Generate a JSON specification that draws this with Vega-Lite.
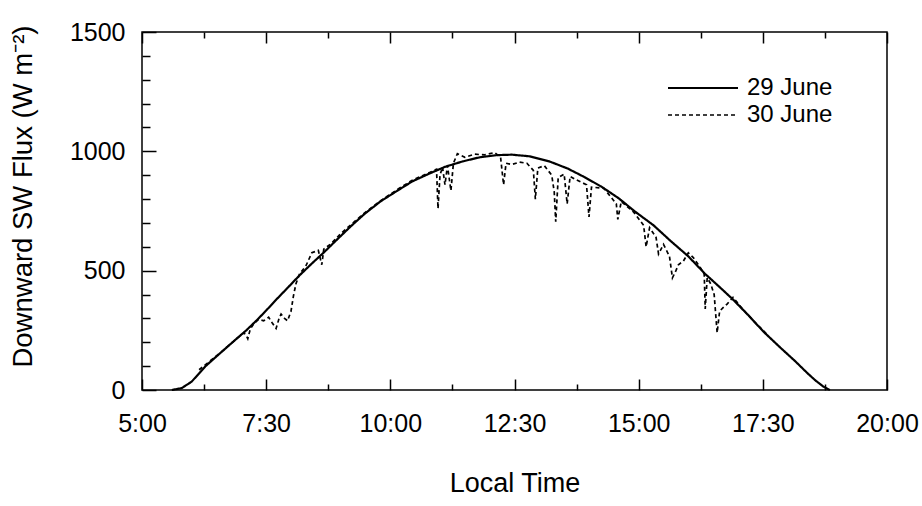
{
  "$schema": "https://vega.github.io/schema/vega-lite/v6.json",
  "width": 745,
  "height": 358,
  "autosize": {"type": "none"},
  "padding": {"left": 142, "top": 32, "right": 35, "bottom": 116},
  "background": "white",
  "config": {"view": {"stroke": "black", "strokeWidth": 1.5}, "font": "Liberation Sans"},
  "datasets": {
    "xt": [{"p": 5}, {"p": 6.25}, {"p": 7.5}, {"p": 8.75}, {"p": 10}, {"p": 11.25}, {"p": 12.5}, {"p": 13.75}, {"p": 15}, {"p": 16.25}, {"p": 17.5}, {"p": 18.75}, {"p": 20}],
    "yt": [{"p": 0}, {"p": 100}, {"p": 200}, {"p": 300}, {"p": 400}, {"p": 500}, {"p": 600}, {"p": 700}, {"p": 800}, {"p": 900}, {"p": 1000}, {"p": 1100}, {"p": 1200}, {"p": 1300}, {"p": 1400}, {"p": 1500}],
    "flux": [
      {"d": "29 June", "t": 5.6, "v": 0},
      {"d": "29 June", "t": 5.8, "v": 8},
      {"d": "29 June", "t": 6.0, "v": 35},
      {"d": "29 June", "t": 6.28, "v": 100},
      {"d": "29 June", "t": 6.55, "v": 150},
      {"d": "29 June", "t": 6.85, "v": 205},
      {"d": "29 June", "t": 7.1, "v": 250},
      {"d": "29 June", "t": 7.31, "v": 292},
      {"d": "29 June", "t": 7.5, "v": 333},
      {"d": "29 June", "t": 7.7, "v": 378},
      {"d": "29 June", "t": 7.95, "v": 432},
      {"d": "29 June", "t": 8.17, "v": 480},
      {"d": "29 June", "t": 8.42, "v": 530},
      {"d": "29 June", "t": 8.67, "v": 578},
      {"d": "29 June", "t": 8.9, "v": 625},
      {"d": "29 June", "t": 9.2, "v": 685},
      {"d": "29 June", "t": 9.47, "v": 736},
      {"d": "29 June", "t": 9.8, "v": 790},
      {"d": "29 June", "t": 10.14, "v": 835},
      {"d": "29 June", "t": 10.45, "v": 875},
      {"d": "29 June", "t": 10.8, "v": 908},
      {"d": "29 June", "t": 11.1, "v": 935},
      {"d": "29 June", "t": 11.46, "v": 958},
      {"d": "29 June", "t": 11.8, "v": 975},
      {"d": "29 June", "t": 12.14, "v": 984},
      {"d": "29 June", "t": 12.45, "v": 986},
      {"d": "29 June", "t": 12.81, "v": 979},
      {"d": "29 June", "t": 13.2, "v": 958},
      {"d": "29 June", "t": 13.57, "v": 928},
      {"d": "29 June", "t": 13.9, "v": 893},
      {"d": "29 June", "t": 14.25, "v": 852},
      {"d": "29 June", "t": 14.6, "v": 803},
      {"d": "29 June", "t": 14.93, "v": 747},
      {"d": "29 June", "t": 15.3, "v": 690},
      {"d": "29 June", "t": 15.64, "v": 625},
      {"d": "29 June", "t": 16.0, "v": 560},
      {"d": "29 June", "t": 16.34, "v": 486},
      {"d": "29 June", "t": 16.6, "v": 437},
      {"d": "29 June", "t": 16.89, "v": 381},
      {"d": "29 June", "t": 17.2, "v": 315},
      {"d": "29 June", "t": 17.52, "v": 243},
      {"d": "29 June", "t": 17.85, "v": 178},
      {"d": "29 June", "t": 18.15, "v": 121},
      {"d": "29 June", "t": 18.4, "v": 70},
      {"d": "29 June", "t": 18.56, "v": 40},
      {"d": "29 June", "t": 18.72, "v": 14},
      {"d": "29 June", "t": 18.85, "v": 0},
      {"d": "30 June", "t": 6.15, "v": 85},
      {"d": "30 June", "t": 6.35, "v": 118},
      {"d": "30 June", "t": 6.6, "v": 160},
      {"d": "30 June", "t": 6.85, "v": 205},
      {"d": "30 June", "t": 7.05, "v": 240},
      {"d": "30 June", "t": 7.1, "v": 228},
      {"d": "30 June", "t": 7.13, "v": 215},
      {"d": "30 June", "t": 7.18, "v": 255},
      {"d": "30 June", "t": 7.25, "v": 278},
      {"d": "30 June", "t": 7.35, "v": 296},
      {"d": "30 June", "t": 7.45, "v": 290},
      {"d": "30 June", "t": 7.55, "v": 305},
      {"d": "30 June", "t": 7.62, "v": 282},
      {"d": "30 June", "t": 7.7, "v": 258},
      {"d": "30 June", "t": 7.76, "v": 300},
      {"d": "30 June", "t": 7.8, "v": 318},
      {"d": "30 June", "t": 7.87, "v": 300},
      {"d": "30 June", "t": 7.93, "v": 290},
      {"d": "30 June", "t": 8.0, "v": 330},
      {"d": "30 June", "t": 8.05, "v": 395},
      {"d": "30 June", "t": 8.1, "v": 445},
      {"d": "30 June", "t": 8.17, "v": 485},
      {"d": "30 June", "t": 8.3, "v": 520},
      {"d": "30 June", "t": 8.42, "v": 575},
      {"d": "30 June", "t": 8.55, "v": 585},
      {"d": "30 June", "t": 8.62, "v": 525},
      {"d": "30 June", "t": 8.66, "v": 590},
      {"d": "30 June", "t": 8.8, "v": 612},
      {"d": "30 June", "t": 9.0, "v": 655},
      {"d": "30 June", "t": 9.47, "v": 740},
      {"d": "30 June", "t": 9.8, "v": 792},
      {"d": "30 June", "t": 10.14, "v": 840},
      {"d": "30 June", "t": 10.45, "v": 880},
      {"d": "30 June", "t": 10.8, "v": 912},
      {"d": "30 June", "t": 10.93, "v": 925},
      {"d": "30 June", "t": 10.96, "v": 760},
      {"d": "30 June", "t": 11.0, "v": 900},
      {"d": "30 June", "t": 11.05, "v": 935},
      {"d": "30 June", "t": 11.1, "v": 860},
      {"d": "30 June", "t": 11.15, "v": 940},
      {"d": "30 June", "t": 11.22, "v": 835},
      {"d": "30 June", "t": 11.27, "v": 950},
      {"d": "30 June", "t": 11.35, "v": 990},
      {"d": "30 June", "t": 11.5, "v": 975},
      {"d": "30 June", "t": 11.7, "v": 988},
      {"d": "30 June", "t": 11.9, "v": 985},
      {"d": "30 June", "t": 12.1, "v": 995},
      {"d": "30 June", "t": 12.22, "v": 975},
      {"d": "30 June", "t": 12.28, "v": 860},
      {"d": "30 June", "t": 12.33, "v": 950},
      {"d": "30 June", "t": 12.45, "v": 945},
      {"d": "30 June", "t": 12.6, "v": 955},
      {"d": "30 June", "t": 12.75, "v": 950},
      {"d": "30 June", "t": 12.88, "v": 920},
      {"d": "30 June", "t": 12.92, "v": 800},
      {"d": "30 June", "t": 12.97, "v": 930},
      {"d": "30 June", "t": 13.1, "v": 940},
      {"d": "30 June", "t": 13.25, "v": 900},
      {"d": "30 June", "t": 13.3, "v": 830},
      {"d": "30 June", "t": 13.33, "v": 705},
      {"d": "30 June", "t": 13.38, "v": 890},
      {"d": "30 June", "t": 13.5, "v": 905},
      {"d": "30 June", "t": 13.56, "v": 780},
      {"d": "30 June", "t": 13.62, "v": 895},
      {"d": "30 June", "t": 13.75, "v": 880},
      {"d": "30 June", "t": 13.95, "v": 860},
      {"d": "30 June", "t": 14.0, "v": 725},
      {"d": "30 June", "t": 14.05, "v": 850},
      {"d": "30 June", "t": 14.3, "v": 845},
      {"d": "30 June", "t": 14.55, "v": 780},
      {"d": "30 June", "t": 14.58, "v": 715},
      {"d": "30 June", "t": 14.65, "v": 790},
      {"d": "30 June", "t": 14.9, "v": 745},
      {"d": "30 June", "t": 15.1, "v": 690},
      {"d": "30 June", "t": 15.15, "v": 600},
      {"d": "30 June", "t": 15.22, "v": 680},
      {"d": "30 June", "t": 15.35, "v": 640},
      {"d": "30 June", "t": 15.4, "v": 570},
      {"d": "30 June", "t": 15.5, "v": 610},
      {"d": "30 June", "t": 15.62, "v": 560},
      {"d": "30 June", "t": 15.68, "v": 470},
      {"d": "30 June", "t": 15.75, "v": 500},
      {"d": "30 June", "t": 15.8, "v": 525},
      {"d": "30 June", "t": 15.9, "v": 540},
      {"d": "30 June", "t": 16.0, "v": 575},
      {"d": "30 June", "t": 16.1, "v": 555},
      {"d": "30 June", "t": 16.25, "v": 510},
      {"d": "30 June", "t": 16.32, "v": 485},
      {"d": "30 June", "t": 16.34, "v": 340},
      {"d": "30 June", "t": 16.38, "v": 470},
      {"d": "30 June", "t": 16.45, "v": 445},
      {"d": "30 June", "t": 16.52, "v": 400},
      {"d": "30 June", "t": 16.58, "v": 240},
      {"d": "30 June", "t": 16.63, "v": 330},
      {"d": "30 June", "t": 16.7, "v": 345},
      {"d": "30 June", "t": 16.78, "v": 360},
      {"d": "30 June", "t": 16.9, "v": 388},
      {"d": "30 June", "t": 17.1, "v": 338},
      {"d": "30 June", "t": 17.3, "v": 292},
      {"d": "30 June", "t": 17.52, "v": 247},
      {"d": "30 June", "t": 17.6, "v": 228}
    ]
  },
  "layer": [
    {
      "data": {"name": "flux"},
      "mark": {"type": "line", "color": "black", "interpolate": "linear"},
      "encoding": {
        "x": {
          "field": "t", "type": "quantitative",
          "scale": {"domain": [5, 20], "nice": false, "zero": false},
          "axis": {
            "orient": "bottom",
            "values": [5, 7.5, 10, 12.5, 15, 17.5, 20],
            "labelExpr": "floor(datum.value) + ':' + (datum.value % 1 === 0 ? '00' : '30')",
            "ticks": false, "domain": false, "grid": false,
            "labelFont": "Liberation Sans", "labelFontSize": 25, "labelColor": "black",
            "labelPadding": 21, "labelFlush": false, "labelOverlap": false,
            "title": "Local Time", "titleFont": "Liberation Sans", "titleFontSize": 27,
            "titleFontWeight": "normal", "titleColor": "black",
            "titleBaseline": "alphabetic", "titleY": 101
          }
        },
        "y": {
          "field": "v", "type": "quantitative",
          "scale": {"domain": [0, 1500], "nice": false},
          "axis": {
            "orient": "left",
            "values": [0, 500, 1000, 1500],
            "format": "d",
            "ticks": false, "domain": false, "grid": false,
            "labelFont": "Liberation Sans", "labelFontSize": 25, "labelColor": "black",
            "labelPadding": 17, "labelOverlap": false, "labelFlush": false,
            "title": "Downward SW Flux (W m⁻²)", "titleFont": "Liberation Sans", "titleFontSize": 27.5,
            "titleFontWeight": "normal", "titleColor": "black",
            "titleAngle": -90, "titleAlign": "center", "titleBaseline": "alphabetic",
            "titleX": -111, "titleY": 164
          }
        },
        "strokeDash": {
          "field": "d", "type": "nominal",
          "scale": {"domain": ["29 June", "30 June"], "range": [[1, 0], [4, 3]]},
          "legend": {
            "title": null, "orient": "none", "legendX": 584, "legendY": 44,
            "symbolType": "M-10,0H0", "symbolSize": 196,
            "symbolStrokeColor": "black", "symbolStrokeWidth": 2, "symbolFillColor": "transparent",
            "labelFont": "Liberation Sans", "labelFontSize": 24, "labelColor": "black",
            "labelOffset": -3, "rowPadding": 3, "padding": 0
          }
        },
        "strokeWidth": {
          "field": "d", "type": "nominal",
          "scale": {"domain": ["29 June", "30 June"], "range": [2.2, 1.7]},
          "legend": null
        }
      }
    },
    {
      "data": {"name": "yt"},
      "mark": {"type": "rule", "opacity": 0},
      "encoding": {
        "x": {
          "field": "p", "type": "quantitative",
          "scale": {"domain": [5, 20], "nice": false, "zero": false},
          "axis": {
            "orient": "bottom",
            "values": [5, 6.25, 7.5, 8.75, 10, 11.25, 12.5, 13.75, 15, 16.25, 17.5, 18.75, 20],
            "labels": false, "domain": false, "grid": false, "title": null,
            "tickSize": {"condition": {"test": "datum.value % 2.5 === 0", "value": -11}, "value": -6},
            "tickColor": "black", "tickWidth": 1.5
          }
        },
        "y": {
          "field": "p", "type": "quantitative",
          "scale": {"domain": [0, 1500], "nice": false},
          "axis": {
            "orient": "left",
            "values": [0, 100, 200, 300, 400, 500, 600, 700, 800, 900, 1000, 1100, 1200, 1300, 1400, 1500],
            "labels": false, "domain": false, "grid": false, "title": null,
            "tickSize": {"condition": {"test": "datum.value % 500 === 0", "value": -14}, "value": -8},
            "tickColor": "black", "tickWidth": 1.5
          }
        }
      }
    },
    {
      "data": {"name": "xt"},
      "mark": {"type": "rule", "opacity": 0},
      "encoding": {
        "x": {
          "field": "p", "type": "quantitative",
          "scale": {"domain": [5, 20], "nice": false, "zero": false},
          "axis": {
            "orient": "top",
            "values": [5, 6.25, 7.5, 8.75, 10, 11.25, 12.5, 13.75, 15, 16.25, 17.5, 18.75, 20],
            "labels": false, "domain": false, "grid": false, "title": null,
            "tickSize": {"condition": {"test": "datum.value % 2.5 === 0", "value": -11}, "value": -6},
            "tickColor": "black", "tickWidth": 1.5
          }
        }
      }
    }
  ],
  "resolve": {"axis": {"x": "independent", "y": "independent"}}
}
